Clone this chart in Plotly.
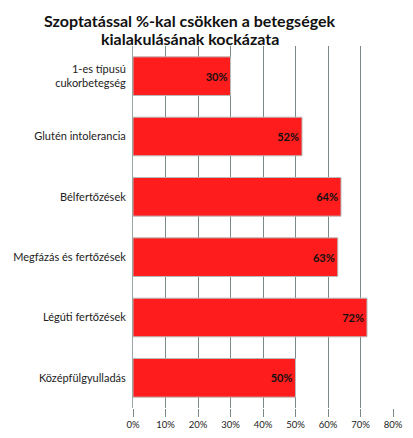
import plotly.graph_objects as go

categories = ["1-es típusú<br>cukorbetegség", "Glutén intolerancia", "Bélfertőzések",
              "Megfázás és fertőzések", "Légúti fertőzések", "Középfülgyulladás"]
values = [30, 52, 64, 63, 72, 50]
tick_vals = [0, 10, 20, 30, 40, 50, 60, 70, 80]
tick_text = ["0%", "10%", "20%", "30%", "40%", "50%", "60%", "70%", "80%"]
title_lines = ["Szoptatással %-kal csökken a betegségek", "kialakulásának kockázata"]

L, R, T, B = 125, 28, 38, 38
W, H = 413, 438

fig = go.Figure()
fig.add_trace(go.Bar(
    y=categories, x=values, orientation="h",
    marker=dict(color="#FF1C1C", line=dict(color="#B9B9B9", width=1)),
    text=[f"<b>{v}%</b>" for v in values], textposition="inside", insidetextanchor="end",
    textfont=dict(family="Lato", size=11, color="#111111"),
    cliponaxis=False,
))

fig.update_layout(
    width=W, height=H,
    margin=dict(l=L, r=R, t=T, b=B),
    paper_bgcolor="white", plot_bgcolor="white",
    showlegend=False, bargap=0.36,
    font=dict(family="Lato", color="#222222"),
    xaxis=dict(range=[0, 80], tickvals=tick_vals, ticktext=tick_text,
               showgrid=True, gridcolor="#7A8A8A", gridwidth=1,
               zeroline=False, showline=False,
               ticks="outside", ticklen=8, tickcolor="#7A8A8A",
               tickfont=dict(size=9.5, color="#222222"), automargin=False),
    yaxis=dict(autorange="reversed", showgrid=False, zeroline=False,
               showline=True, linecolor="#9AA5A5", linewidth=1,
               ticks="", ticklabelstandoff=4,
               tickfont=dict(size=11, color="#222222"), automargin=False),
)

plot_w = W - L - R
plot_h = H - T - B
for text, px, py in [(title_lines[0], 182, 12), (title_lines[1], 182, 30)]:
    fig.add_annotation(
        text=f"<b>{text}</b>", showarrow=False,
        x=(px - L) / plot_w, y=1 + (T - py) / plot_h,
        xref="paper", yref="paper", xanchor="center", yanchor="middle",
        font=dict(family="Lato", size=16, color="#111111"),
    )

fig.write_html("out.html")
